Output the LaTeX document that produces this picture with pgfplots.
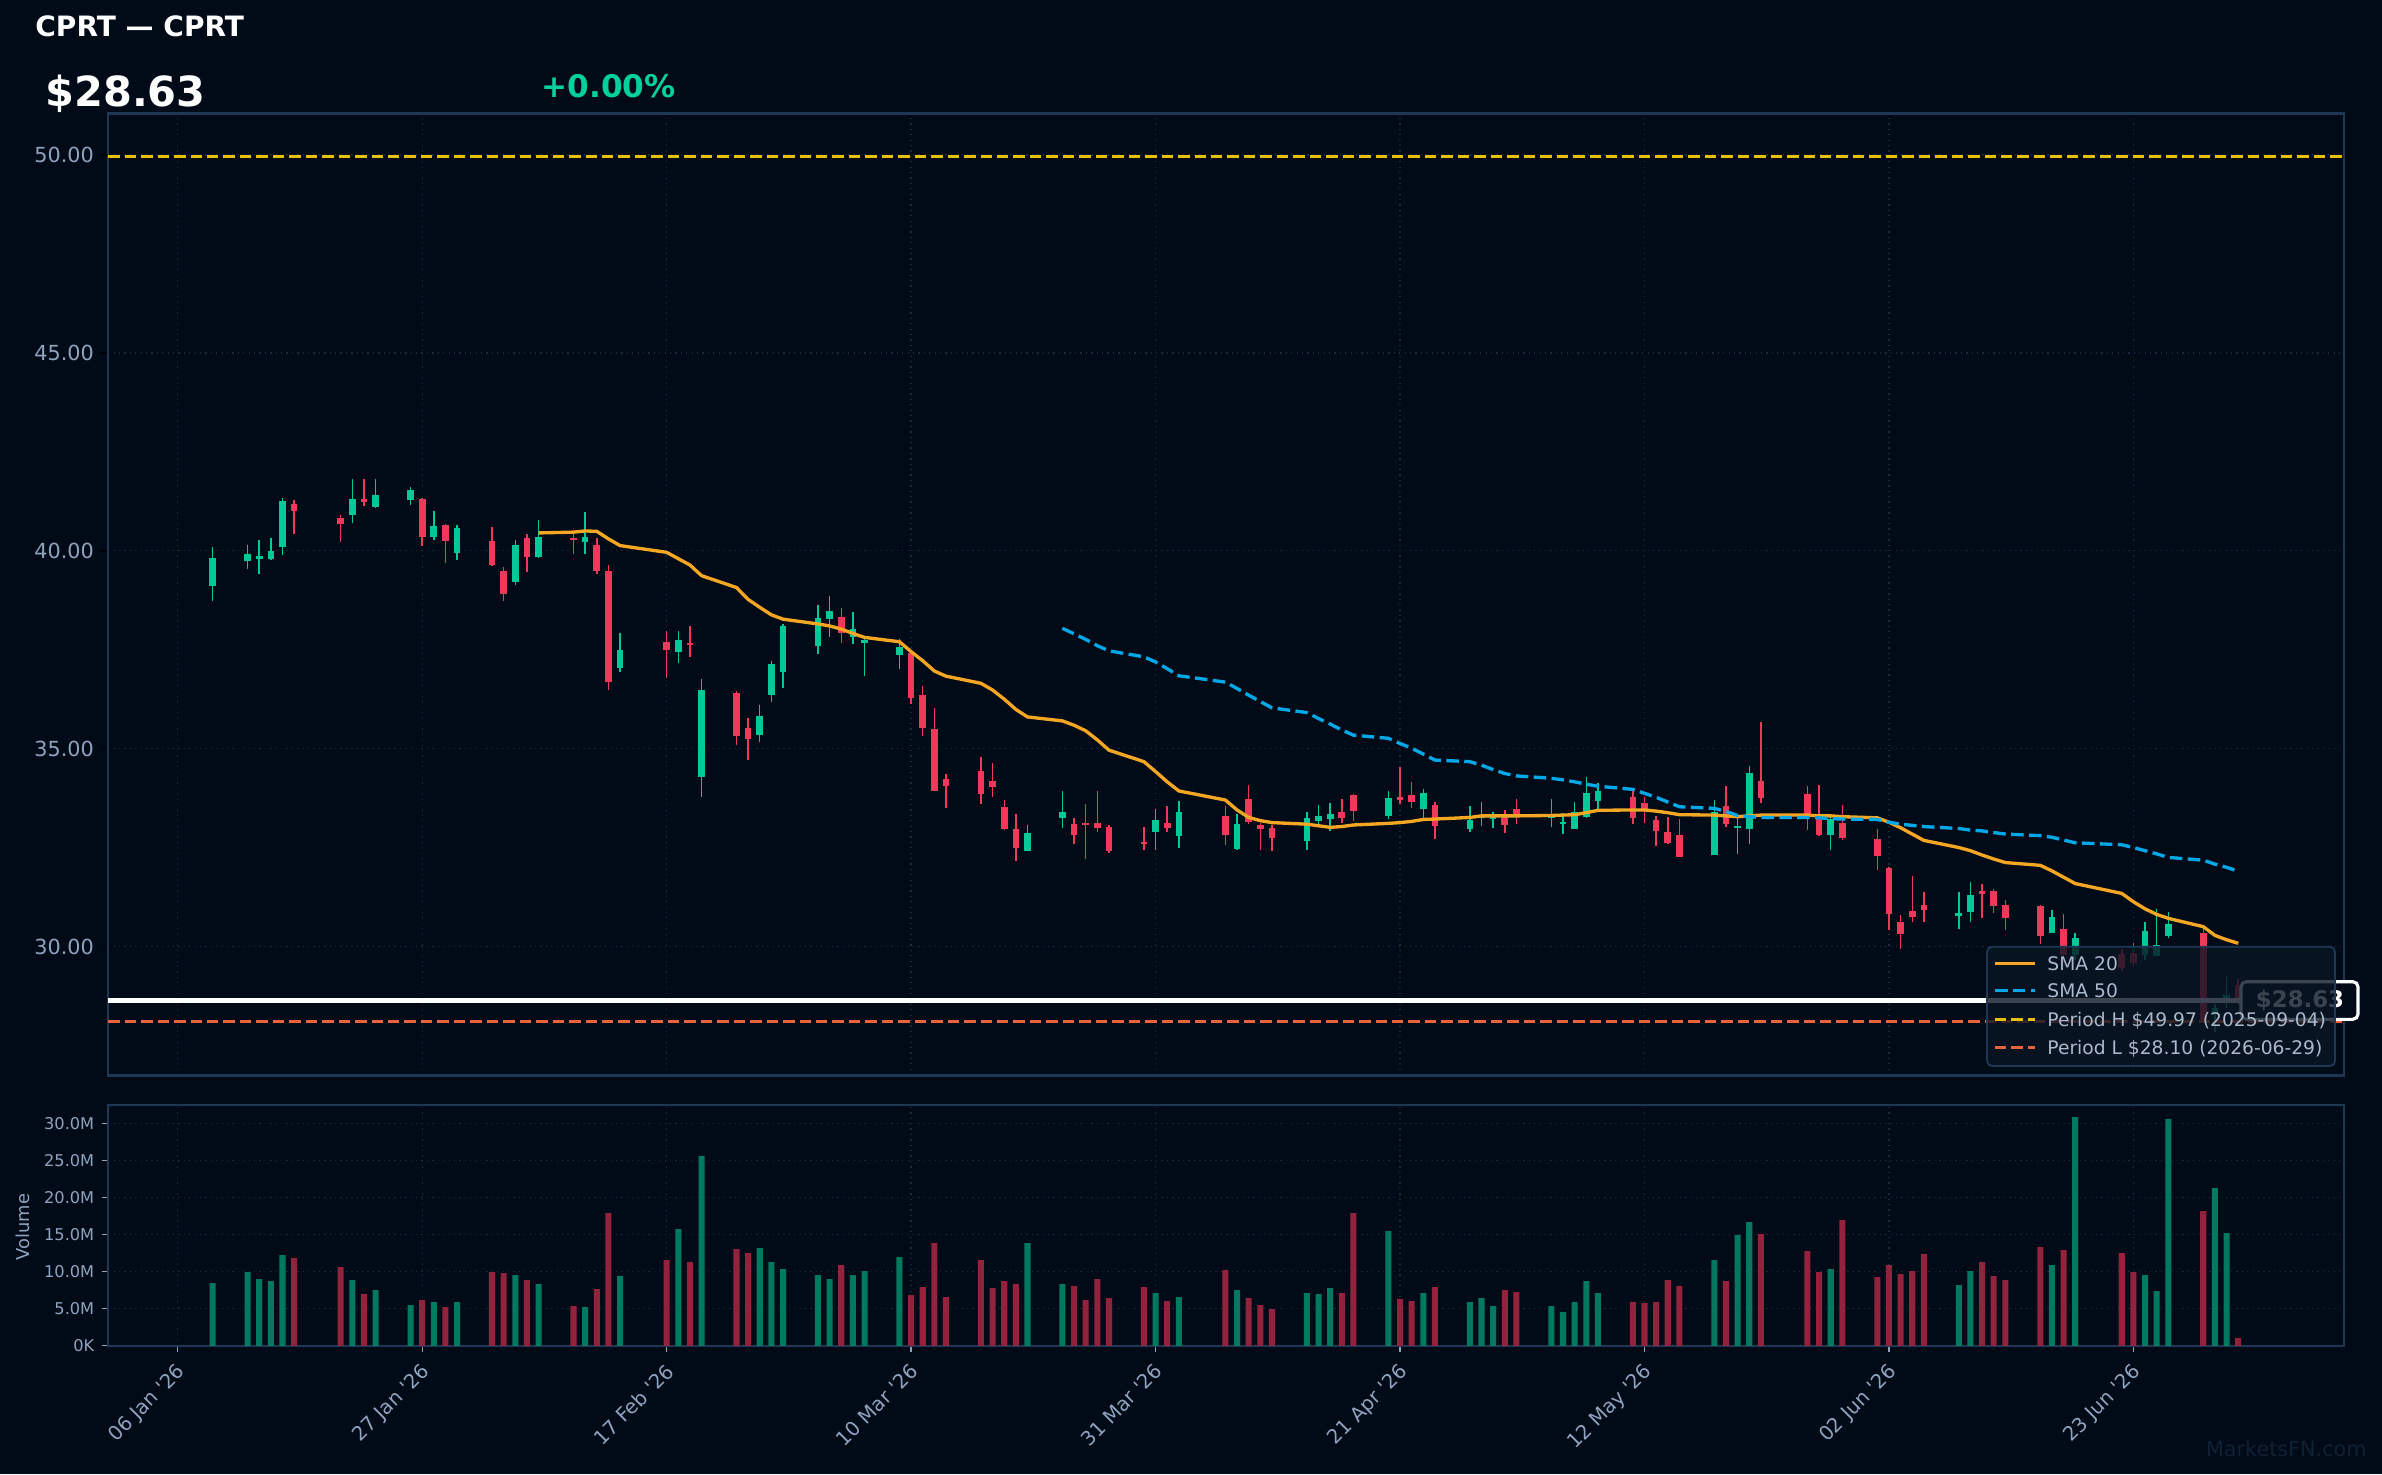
\documentclass[border=0pt]{standalone}
\usepackage{fontspec}
\newfontfamily\dv{DejaVu Sans}
\usepackage{pgfplots}
\usepackage{pgfplotstable}
\pgfplotsset{compat=1.18}

\definecolor{bgc}{HTML}{010B18}
\definecolor{spinec}{HTML}{1E3755}
\definecolor{gridc}{HTML}{1A2A3E}
\definecolor{tickc}{HTML}{8FA3BF}
\definecolor{legtxt}{HTML}{AAB9CD}
\definecolor{legbg}{HTML}{0A1524}
\definecolor{cgreen}{HTML}{00C896}
\definecolor{cred}{HTML}{F0385A}
\definecolor{vgreen}{HTML}{007A5E}
\definecolor{vred}{HTML}{93223C}
\definecolor{csmaa}{HTML}{F5A623}
\definecolor{csmab}{HTML}{00A8E8}
\definecolor{cph}{HTML}{E6C200}
\definecolor{cpl}{HTML}{E8643C}
\definecolor{gtxt}{HTML}{00D09C}
\definecolor{wm}{HTML}{0F2134}

% candles: day o h l c
\pgfplotstableread{
d o h l c
3 39.12 40.09 38.74 39.82
6 39.75 40.14 39.54 39.92
7 39.80 40.27 39.41 39.87
8 39.79 40.32 39.77 39.99
9 40.09 41.33 39.89 41.26
15 40.90 41.81 40.70 41.31
17 41.11 41.81 41.08 41.41
20 41.28 41.61 41.16 41.53
22 40.35 41.00 40.27 40.62
24 39.94 40.65 39.77 40.57
29 39.21 40.27 39.13 40.14
31 39.84 40.78 39.82 40.35
35 40.22 40.98 39.92 40.35
38 37.04 37.92 36.94 37.49
43 37.44 37.97 37.17 37.74
45 34.29 36.76 33.78 36.48
50 35.34 36.10 35.17 35.82
51 36.35 37.21 36.19 37.14
52 36.93 38.15 36.54 38.10
55 37.60 38.63 37.39 38.30
56 38.27 38.86 37.82 38.48
58 37.82 38.45 37.64 38.02
59 37.67 37.76 36.83 37.74
62 37.36 37.77 37.01 37.57
73 32.42 33.07 32.40 32.87
76 33.25 33.93 32.99 33.40
84 32.89 33.47 32.44 33.20
86 32.79 33.68 32.49 33.40
91 32.46 33.35 32.44 33.09
97 32.66 33.40 32.44 33.25
98 33.17 33.57 33.09 33.30
99 33.22 33.62 32.92 33.35
104 33.30 33.93 33.22 33.75
107 33.47 33.98 33.25 33.88
111 32.97 33.55 32.89 33.20
112 33.25 33.65 33.04 33.32
113 33.22 33.40 32.99 33.30
118 33.25 33.73 33.03 33.29
119 33.12 33.37 32.85 33.14
120 32.98 33.65 32.98 33.39
121 33.28 34.28 33.25 33.88
122 33.68 34.13 33.43 33.93
132 32.32 33.70 32.31 33.41
134 33.01 33.30 32.34 33.05
135 32.98 34.56 32.60 34.38
142 32.82 33.28 32.44 33.23
153 30.78 31.37 30.44 30.84
154 30.87 31.63 30.62 31.30
161 30.34 30.92 30.33 30.75
163 29.78 30.33 29.66 30.21
169 29.78 30.62 29.67 30.39
170 29.77 30.95 29.76 30.04
171 30.27 30.86 30.22 30.56
175 28.30 28.54 27.83 28.45
176 28.71 29.22 28.44 28.77
}\tabG

\pgfplotstableread{
d o h l c
10 41.18 41.28 40.42 41.00
14 40.83 40.90 40.22 40.68
16 41.31 41.81 41.13 41.24
21 41.31 41.33 40.12 40.35
23 40.65 40.68 39.69 40.25
27 40.25 40.60 39.62 39.64
28 39.49 39.59 38.73 38.91
30 40.32 40.42 39.46 39.84
34 40.32 40.42 39.92 40.27
36 40.14 40.32 39.41 39.49
37 39.49 39.64 36.48 36.68
42 37.69 37.97 36.79 37.49
44 37.66 38.10 37.32 37.62
48 36.40 36.45 35.09 35.33
49 35.51 35.77 34.72 35.25
57 38.32 38.55 37.67 37.92
63 37.41 37.45 36.13 36.28
64 36.35 36.58 35.32 35.52
65 35.49 36.03 33.92 33.93
66 34.23 34.36 33.50 34.05
69 34.43 34.79 33.61 33.86
70 34.18 34.64 33.78 34.03
71 33.52 33.70 32.94 32.97
72 32.97 33.35 32.16 32.50
77 33.09 33.25 32.59 32.82
78 33.10 33.60 32.21 33.07
79 33.12 33.93 32.89 32.99
80 33.02 33.07 32.36 32.41
83 32.61 33.02 32.44 32.60
85 33.12 33.55 32.89 32.99
90 33.30 33.55 32.56 32.82
92 33.73 34.08 33.09 33.14
93 33.07 33.12 32.44 32.97
94 32.99 33.07 32.41 32.74
100 33.40 33.73 33.12 33.25
101 33.83 33.85 33.17 33.42
105 33.78 34.53 33.60 33.70
106 33.83 34.16 33.50 33.65
108 33.57 33.65 32.71 33.04
114 33.31 33.45 32.87 33.08
115 33.47 33.73 33.09 33.28
125 33.78 33.93 33.10 33.25
126 33.62 33.78 33.13 33.46
127 33.19 33.30 32.55 32.92
128 32.89 33.27 32.60 32.61
129 32.82 33.22 32.26 32.27
133 33.55 34.05 33.03 33.10
136 34.18 35.67 33.63 33.76
140 33.85 34.05 32.95 33.28
141 33.36 34.08 32.80 32.82
143 33.13 33.57 32.70 32.75
146 32.71 32.97 31.94 32.29
147 31.98 32.01 30.41 30.83
148 30.61 30.79 29.94 30.32
149 30.89 31.78 30.62 30.74
150 31.05 31.37 30.62 30.92
155 31.40 31.58 30.72 31.33
156 31.40 31.45 30.84 31.02
157 31.05 31.17 30.41 30.73
160 31.02 31.05 30.06 30.27
162 30.44 30.82 29.57 29.78
167 29.81 29.94 29.38 29.46
168 29.84 30.08 29.49 29.59
174 30.33 30.52 28.10 28.15
177 29.02 29.17 28.55 28.63
}\tabR

\pgfplotstableread{
d v
31 40.45
34 40.47
35 40.50
36 40.49
37 40.30
38 40.13
42 39.96
43 39.80
44 39.64
45 39.37
48 39.07
49 38.77
50 38.57
51 38.38
52 38.27
55 38.15
56 38.10
57 38.02
58 37.91
59 37.81
62 37.70
63 37.45
64 37.22
65 36.96
66 36.83
69 36.65
70 36.48
71 36.25
72 35.99
73 35.80
76 35.70
77 35.59
78 35.45
79 35.22
80 34.96
83 34.67
84 34.42
85 34.16
86 33.93
90 33.70
91 33.45
92 33.26
93 33.18
94 33.13
97 33.09
98 33.05
99 33.01
100 33.03
101 33.07
104 33.11
105 33.13
106 33.16
107 33.21
108 33.22
111 33.26
112 33.30
113 33.30
114 33.30
115 33.30
118 33.31
119 33.32
120 33.33
121 33.38
122 33.44
125 33.45
126 33.45
127 33.42
128 33.38
129 33.33
132 33.32
133 33.30
134 33.28
135 33.30
136 33.32
140 33.32
141 33.30
142 33.30
143 33.28
146 33.25
147 33.14
148 33.00
149 32.84
150 32.68
153 32.50
154 32.42
155 32.31
156 32.21
157 32.12
160 32.05
161 31.91
162 31.75
163 31.59
167 31.34
168 31.13
169 30.95
170 30.81
171 30.71
174 30.50
175 30.28
176 30.17
177 30.08
}\tabSa

\pgfplotstableread{
d v
76 38.04
77 37.90
78 37.76
79 37.60
80 37.47
83 37.32
84 37.19
85 37.02
86 36.84
90 36.68
91 36.52
92 36.35
93 36.19
94 36.03
97 35.91
98 35.76
99 35.62
100 35.47
101 35.34
104 35.26
105 35.13
106 35.01
107 34.86
108 34.71
111 34.67
112 34.58
113 34.47
114 34.37
115 34.31
118 34.25
119 34.21
120 34.16
121 34.10
122 34.05
125 33.97
126 33.87
127 33.77
128 33.65
129 33.53
132 33.49
133 33.41
134 33.31
135 33.28
136 33.26
140 33.26
141 33.25
142 33.23
143 33.22
146 33.21
147 33.14
148 33.09
149 33.06
150 33.03
153 32.98
154 32.94
155 32.92
156 32.88
157 32.84
160 32.80
161 32.76
162 32.69
163 32.62
167 32.57
168 32.50
169 32.42
170 32.34
171 32.25
174 32.18
175 32.08
176 32.00
177 31.90
}\tabSb

% volumes in millions
\pgfplotstableread{
d v
3 8.46
6 9.94
7 9.00
8 8.73
9 12.24
15 8.86
17 7.51
20 5.49
22 5.89
24 5.89
29 9.54
31 8.32
35 5.22
38 9.40
43 15.74
45 25.60
50 13.18
51 11.29
52 10.35
55 9.54
56 9.00
58 9.54
59 10.08
62 11.97
73 13.86
76 8.32
84 7.11
86 6.57
91 7.51
97 7.11
98 6.97
99 7.78
104 15.47
107 7.11
111 5.89
112 6.43
113 5.35
118 5.35
119 4.54
120 5.89
121 8.73
122 7.11
132 11.56
134 14.93
135 16.69
142 10.35
153 8.19
154 10.08
161 10.89
163 30.86
169 9.54
170 7.38
171 30.60
175 21.27
176 15.20
}\tabVG

\pgfplotstableread{
d v
10 11.83
14 10.60
16 6.97
21 6.16
23 5.22
27 9.94
28 9.81
30 8.86
34 5.35
36 7.65
37 17.90
42 11.56
44 11.29
48 13.05
49 12.50
57 10.89
63 6.84
64 7.92
65 13.86
66 6.57
69 11.56
70 7.78
71 8.73
72 8.32
77 8.05
78 6.16
79 9.00
80 6.43
83 7.92
85 6.03
90 10.21
92 6.43
93 5.49
94 4.95
100 7.11
101 17.90
105 6.30
106 6.03
108 7.92
114 7.51
115 7.24
125 5.89
126 5.76
127 5.89
128 8.86
129 8.05
133 8.73
136 15.07
140 12.78
141 9.94
143 16.96
146 9.27
147 10.89
148 9.67
149 10.08
150 12.37
155 11.29
156 9.40
157 8.86
160 13.32
162 12.91
167 12.50
168 9.94
174 18.17
177 1.03
}\tabVR

\begin{document}
\dv
\begin{tikzpicture}
% background (pixel coordinate scope)
\begin{scope}[x=0.48bp,y=-0.48bp]
\fill[bgc] (0,0) rectangle (2382,1474);
\end{scope}

\begin{axis}[
  at={(51.94bp,-516.10bp)}, anchor=south west,
  scale only axis, width=1073.18bp, height=461.71bp,
  xmin=-5.97, xmax=186.1, ymin=26.745, ymax=51.054,
  axis background/.style={fill=bgc},
  axis line style={draw=spinec, line width=1.2bp},
  xtick={0,21,...,168}, xticklabels={,,,,,,,,},
  ytick={30,35,40,45,50}, yticklabels={30.00,35.00,40.00,45.00,50.00},
  yticklabel style={font=\dv\fontsize{10}{12}\selectfont, text=tickc},
  grid=major, major grid style={draw=gridc, line width=0.6bp, dotted},
  tick align=outside, xtick pos=bottom, ytick pos=left,
  xtick style={draw=none}, ytick style={draw=black, line width=0.8bp},
  major tick length=3.4bp,
]
% green wicks and bodies
\addplot[forget plot, draw=none, mark=none,
  error bars/.cd, y dir=both, y explicit, error mark=none,
  error bar style={draw=cgreen, line width=0.7bp}]
  table[x=d, y expr={(\thisrow{h}+\thisrow{l})/2}, y error expr={(\thisrow{h}-\thisrow{l})/2}] \tabG;
\addplot[forget plot, draw=none, mark=none,
  error bars/.cd, y dir=both, y explicit, error mark=none,
  error bar style={draw=cgreen, line width=3.2bp}]
  table[x=d, y expr={(\thisrow{o}+\thisrow{c})/2}, y error expr={max(abs(\thisrow{c}-\thisrow{o})/2,0.025)}] \tabG;
% red wicks and bodies
\addplot[forget plot, draw=none, mark=none,
  error bars/.cd, y dir=both, y explicit, error mark=none,
  error bar style={draw=cred, line width=0.7bp}]
  table[x=d, y expr={(\thisrow{h}+\thisrow{l})/2}, y error expr={(\thisrow{h}-\thisrow{l})/2}] \tabR;
\addplot[forget plot, draw=none, mark=none,
  error bars/.cd, y dir=both, y explicit, error mark=none,
  error bar style={draw=cred, line width=3.2bp}]
  table[x=d, y expr={(\thisrow{o}+\thisrow{c})/2}, y error expr={max(abs(\thisrow{c}-\thisrow{o})/2,0.025)}] \tabR;
% moving averages
\addplot[csmaa, line width=1.6bp, mark=none] table[x=d,y=v] \tabSa;
\addplot[csmab, line width=1.6bp, mark=none, dash pattern=on 6bp off 2.6bp] table[x=d,y=v] \tabSb;
% period lines
\addplot[cph, line width=1.5bp, mark=none, dash pattern=on 5.5bp off 2.4bp] coordinates {(-5.97,49.97) (186.1,49.97)};
\addplot[cpl, line width=1.5bp, mark=none, dash pattern=on 5.5bp off 2.4bp] coordinates {(-5.97,28.10) (186.1,28.10)};
% last price line
\addplot[white, line width=2.5bp, mark=none] coordinates {(-5.97,28.63) (186.1,28.63)};
\end{axis}

\begin{axis}[
  at={(51.94bp,-645.94bp)}, anchor=south west,
  scale only axis, width=1073.18bp, height=115.54bp,
  xmin=-5.97, xmax=186.1, ymin=0, ymax=32.47,
  axis background/.style={fill=bgc},
  axis line style={draw=spinec, line width=1.1bp},
  xtick={0,21,...,168},
  xticklabels={06 Jan '26,27 Jan '26,17 Feb '26,10 Mar '26,31 Mar '26,21 Apr '26,12 May '26,02 Jun '26,23 Jun '26},
  xticklabel style={rotate=45, anchor=north east, font=\dv\fontsize{9.5}{11}\selectfont, text=tickc, inner sep=1bp, xshift=-3bp, yshift=-1.5bp},
  ytick={0,5,10,15,20,25,30}, yticklabels={0K,5.0M,10.0M,15.0M,20.0M,25.0M,30.0M},
  yticklabel style={font=\dv\fontsize{7.8}{9}\selectfont, text=tickc},
  grid=major, major grid style={draw=gridc, line width=0.6bp, dotted},
  tick align=outside, xtick pos=bottom, ytick pos=left,
  tick style={draw=tickc, line width=0.6bp},
  major tick length=3.2bp,
]
\addplot[ybar, bar width=0.52, bar shift=0pt, fill=vgreen, draw=none] table[x=d,y=v] \tabVG;
\addplot[ybar, bar width=0.52, bar shift=0pt, fill=vred, draw=none] table[x=d,y=v] \tabVR;
\end{axis}

\begin{scope}[x=0.48bp,y=-0.48bp]
% header texts
\node[anchor=base west, inner sep=0, text=white, font=\dv\bfseries\fontsize{13.5}{16}\selectfont] at (35,36.7) {CPRT — CPRT};
\node[anchor=base west, inner sep=0, text=white, font=\dv\bfseries\fontsize{20}{24}\selectfont] at (45,107) {\$28.63};
\node[anchor=base west, inner sep=0, text=gtxt, font=\dv\bfseries\fontsize{15}{18}\selectfont] at (541,97.7) {+0.00\%};
% volume label
\node[rotate=90, inner sep=0, text=tickc, font=\dv\fontsize{8.6}{10}\selectfont] at (22.5,1227) {Volume};
% watermark
\node[anchor=base east, inner sep=0, text=wm, font=\dv\fontsize{10}{12}\selectfont] at (2367,1456) {MarketsFN.com};
% price tag
\draw[white, line width=1.5bp, fill=bgc, rounded corners=2.5bp] (2241,981.7) rectangle (2358,1019.3);
\node[text=white, inner sep=0, font=\dv\bfseries\fontsize{11}{13}\selectfont] at (2300,1000.5) {\$28.63};
% legend
\fill[legbg, fill opacity=0.8, rounded corners=2.5bp] (1987,946.7) rectangle (2335,1066);
\draw[spinec, line width=0.9bp, rounded corners=2.5bp] (1987,946.7) rectangle (2335,1066);
\draw[csmaa, line width=1.6bp] (1995,963.3) -- (2035,963.3);
\draw[csmab, line width=1.6bp, dash pattern=on 6bp off 2.6bp] (1995,990.7) -- (2035,990.7);
\draw[cph, line width=1.5bp, dash pattern=on 5.5bp off 2.4bp] (1995,1019.3) -- (2035,1019.3);
\draw[cpl, line width=1.5bp, dash pattern=on 5.5bp off 2.4bp] (1995,1047.7) -- (2035,1047.7);
\begin{scope}[every node/.style={anchor=base west, inner sep=0, text=legtxt, font=\dv\fontsize{9}{11}\selectfont}]
\node at (2047,970) {SMA 20};
\node at (2047,997.4) {SMA 50};
\node at (2047,1026) {Period H \$49.97 (2025-09-04)};
\node at (2047,1054.4) {Period L \$28.10 (2026-06-29)};
\end{scope}
\pgfresetboundingbox
\path[use as bounding box] (0,0) rectangle (2382,1474);
\end{scope}
\end{tikzpicture}
\end{document}
